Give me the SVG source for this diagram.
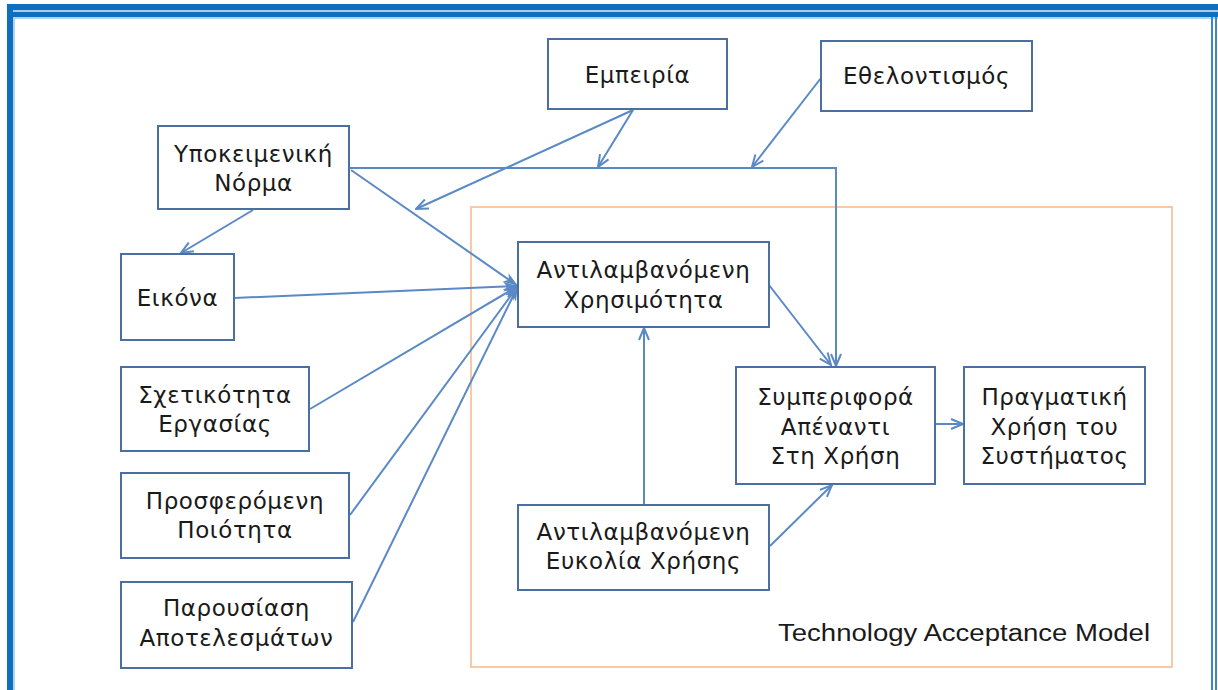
<svg xmlns="http://www.w3.org/2000/svg" width="1218" height="690" viewBox="0 0 1218 690">
  <defs>
    <style>
      .box { fill: #ffffff; stroke: #4A6FA0; stroke-width: 2; }
      .lbl { font-family: "DejaVu Sans", "Liberation Sans", sans-serif; font-size: 23px; fill: #1a1a1a; text-anchor: middle; letter-spacing: 0.6px; }
      .conn { fill: none; stroke: #5A89C6; stroke-width: 2; }
    </style>
    <marker id="arrow" viewBox="0 0 14 12" refX="13" refY="6" markerWidth="14" markerHeight="12" markerUnits="userSpaceOnUse" orient="auto">
      <path d="M1,1 L13,6 L1,11" fill="none" stroke="#5A89C6" stroke-width="2"/>
    </marker>
    <marker id="arrowFill" viewBox="0 0 16 12" refX="15" refY="6" markerWidth="16" markerHeight="12" markerUnits="userSpaceOnUse" orient="auto">
      <path d="M0,1 L15,6 L0,11 L4,6 Z" fill="#5A89C6"/>
    </marker>
  </defs>

  <rect width="1218" height="690" fill="#ffffff"/>

  <!-- page frame -->
  <g id="frame">
    <rect x="7" y="4" width="1211" height="15" fill="#0E6FC0"/>
    <rect x="13" y="10" width="1205" height="2" fill="#A8CBEC"/>
    <rect x="13" y="17" width="1205" height="2" fill="#B3D2EE"/>
    <rect x="7" y="4" width="6" height="686" fill="#0E6FC0"/>
    <rect x="13" y="17" width="2" height="673" fill="#B3D2EE"/>
    <rect x="1211" y="17" width="2" height="673" fill="#3F86CC"/>
    <rect x="1215" y="17" width="2" height="673" fill="#3F86CC"/>
  </g>

  <!-- Technology Acceptance Model boundary -->
  <g id="tam">
    <rect x="471" y="207" width="701" height="460" fill="none" stroke="#F8C9A4" stroke-width="2"/>
    <text x="778" y="641" font-family="Liberation Sans, Arial, sans-serif" font-size="23" fill="#1a1a1a" textLength="372" lengthAdjust="spacingAndGlyphs">Technology Acceptance Model</text>
  </g>

  <!-- connectors -->
  <g id="connectors">
    <line class="conn" x1="633" y1="110" x2="416" y2="209" marker-end="url(#arrow)"/>
    <line class="conn" x1="633" y1="110" x2="598" y2="167" marker-end="url(#arrow)"/>
    <line class="conn" x1="821" y1="78" x2="752" y2="167" marker-end="url(#arrow)"/>
    <polyline class="conn" points="349,168 836,168 836,366" marker-end="url(#arrow)"/>
    <line class="conn" x1="351" y1="170" x2="518" y2="286" marker-end="url(#arrowFill)"/>
    <line class="conn" x1="253" y1="210" x2="181" y2="253" marker-end="url(#arrow)"/>
    <line class="conn" x1="234" y1="298" x2="518" y2="286" marker-end="url(#arrowFill)"/>
    <line class="conn" x1="310" y1="409" x2="518" y2="286" marker-end="url(#arrowFill)"/>
    <line class="conn" x1="350" y1="515" x2="518" y2="286" marker-end="url(#arrowFill)"/>
    <line class="conn" x1="353" y1="622" x2="518" y2="286" marker-end="url(#arrowFill)"/>
    <line class="conn" x1="769" y1="285" x2="831" y2="365" marker-end="url(#arrow)"/>
    <line class="conn" x1="644" y1="505" x2="644" y2="328" marker-end="url(#arrow)"/>
    <line class="conn" x1="770" y1="546" x2="832" y2="485" marker-end="url(#arrow)"/>
    <line class="conn" x1="935" y1="424" x2="963" y2="424" marker-end="url(#arrow)"/>
  </g>

  <g id="empeiria">
    <rect class="box" x="548" y="39" width="179" height="70"/>
    <text class="lbl" x="637.5" y="83">Εμπειρία</text>
  </g>

  <g id="ethelontismos">
    <rect class="box" x="821" y="41" width="211" height="70"/>
    <text class="lbl" x="926.5" y="84">Εθελοντισμός</text>
  </g>

  <g id="ypokeimeniki-norma">
    <rect class="box" x="158" y="126" width="191" height="83"/>
    <text class="lbl" x="253.5" y="162">Υποκειμενική</text>
    <text class="lbl" x="253.5" y="191">Νόρμα</text>
  </g>

  <g id="eikona">
    <rect class="box" x="121" y="254" width="113" height="86"/>
    <text class="lbl" x="177.5" y="306">Εικόνα</text>
  </g>

  <g id="sxetikotita">
    <rect class="box" x="121" y="367" width="188" height="84"/>
    <text class="lbl" x="215" y="403">Σχετικότητα</text>
    <text class="lbl" x="215" y="432">Εργασίας</text>
  </g>

  <g id="prosferomeni-poiotita">
    <rect class="box" x="121" y="473" width="228" height="85"/>
    <text class="lbl" x="235" y="509">Προσφερόμενη</text>
    <text class="lbl" x="235" y="538">Ποιότητα</text>
  </g>

  <g id="parousiasi">
    <rect class="box" x="121" y="582" width="231" height="86"/>
    <text class="lbl" x="236.5" y="616">Παρουσίαση</text>
    <text class="lbl" x="236.5" y="646">Αποτελεσμάτων</text>
  </g>

  <g id="xrisimotita">
    <rect class="box" x="518" y="242" width="251" height="85"/>
    <text class="lbl" x="643.5" y="278">Αντιλαμβανόμενη</text>
    <text class="lbl" x="643.5" y="308">Χρησιμότητα</text>
  </g>

  <g id="eukolia">
    <rect class="box" x="518" y="505" width="251" height="85"/>
    <text class="lbl" x="643.5" y="540">Αντιλαμβανόμενη</text>
    <text class="lbl" x="643.5" y="569">Ευκολία Χρήσης</text>
  </g>

  <g id="symperifora">
    <rect class="box" x="736" y="367" width="199" height="117"/>
    <text class="lbl" x="835.5" y="405">Συμπεριφορά</text>
    <text class="lbl" x="835.5" y="435">Απέναντι</text>
    <text class="lbl" x="835.5" y="464">Στη Χρήση</text>
  </g>

  <g id="pragmatiki-xrisi">
    <rect class="box" x="964" y="367" width="181" height="117"/>
    <text class="lbl" x="1054.5" y="405">Πραγματική</text>
    <text class="lbl" x="1054.5" y="435">Χρήση του</text>
    <text class="lbl" x="1054.5" y="464">Συστήματος</text>
  </g>
</svg>
